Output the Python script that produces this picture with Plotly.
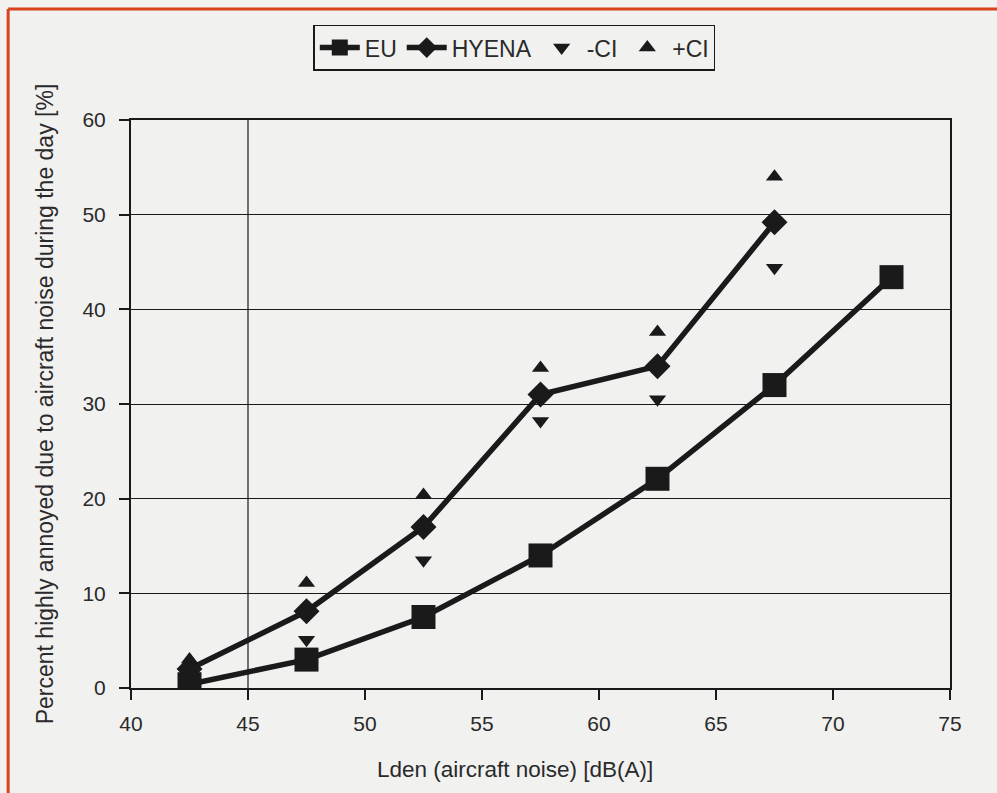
import plotly.graph_objects as go

# Data
lden = [42.5, 47.5, 52.5, 57.5, 62.5, 67.5, 72.5]
eu = [0.4, 3.0, 7.5, 14.0, 22.1, 32.0, 43.4]
hyena_x = [42.5, 47.5, 52.5, 57.5, 62.5, 67.5]
hyena = [2.0, 8.1, 17.0, 31.0, 34.0, 49.2]
ci_low = [1.0, 5.1, 13.5, 28.2, 30.5, 44.4]
ci_high = [3.0, 11.1, 20.4, 33.8, 37.6, 54.0]

x_ticks = [40, 45, 50, 55, 60, 65, 70, 75]
y_ticks = [0, 10, 20, 30, 40, 50, 60]

x_title = "Lden (aircraft noise) [dB(A)]"
y_title = "Percent highly annoyed due to aircraft noise during the day [%]"

ink = "#1a1a1a"
bg = "#f1f1f0"
txt = "#2a2a2a"
fam = "Liberation Sans"

fig = go.Figure()
fig.add_trace(go.Scatter(
    x=hyena_x, y=hyena, name="HYENA", mode="lines+markers",
    line=dict(color=ink, width=5.5),
    marker=dict(symbol="diamond", size=20, color=ink),
    legendrank=2,
))
fig.add_trace(go.Scatter(
    x=hyena_x, y=ci_low, name="-CI", mode="markers",
    marker=dict(symbol="triangle-down", size=15, color=ink),
    legendrank=3,
))
fig.add_trace(go.Scatter(
    x=hyena_x, y=ci_high, name="+CI", mode="markers",
    marker=dict(symbol="triangle-up", size=15, color=ink),
    legendrank=4,
))
fig.add_trace(go.Scatter(
    x=lden, y=eu, name="EU", mode="lines+markers",
    line=dict(color=ink, width=5.5),
    marker=dict(symbol="square", size=24, color=ink),
    legendrank=1,
))

# Single vertical gridline at 45
fig.add_shape(type="line", xref="x", yref="paper", x0=45, x1=45, y0=0, y1=1,
              line=dict(color=ink, width=1.2), layer="below")

# Red scan border (top and left)
fig.add_shape(type="line", xref="paper", yref="paper",
              x0=-0.150, x1=1.06, y0=1.1955, y1=1.1955,
              line=dict(color="#d8431c", width=3))
fig.add_shape(type="line", xref="paper", yref="paper",
              x0=-0.150, x1=-0.150, y0=-0.185, y1=1.1955,
              line=dict(color="#d8431c", width=3))

# X axis title (positioned as in the reference)
fig.add_annotation(text=x_title, xref="paper", yref="paper", x=0.469, y=-0.144,
                   xanchor="center", yanchor="middle", showarrow=False,
                   font=dict(family=fam, size=22.5, color=txt))

fig.update_layout(
    width=997, height=793,
    margin=dict(l=131, r=47, t=120, b=105),
    paper_bgcolor=bg, plot_bgcolor=bg,
    font=dict(family=fam, size=21, color=txt),
    showlegend=True,
    legend=dict(
        orientation="h", x=0.468, y=1.168, xanchor="center", yanchor="top",
        bgcolor=bg, bordercolor=ink, borderwidth=1.5, itemwidth=40,
        font=dict(family=fam, size=23, color=txt), traceorder="normal",
    ),
    xaxis=dict(
        range=[40, 75], tickvals=x_ticks, showgrid=False, zeroline=False,
        showline=True, linecolor=ink, linewidth=2, mirror=True,
        ticks="outside", ticklen=10, tickwidth=2, tickcolor=ink,
        tickfont=dict(family=fam, size=21, color=txt), ticklabelstandoff=6,
    ),
    yaxis=dict(
        range=[0, 60], tickvals=y_ticks, showgrid=True, gridcolor=ink, gridwidth=1.2,
        zeroline=False, showline=True, linecolor=ink, linewidth=2, mirror=True,
        ticks="outside", ticklen=10, tickwidth=2, tickcolor=ink,
        tickfont=dict(family=fam, size=21, color=txt), ticklabelstandoff=9,
        title=dict(text=y_title, standoff=22, font=dict(family=fam, size=23, color=txt)),
    ),
)

fig.write_html("out.html")
